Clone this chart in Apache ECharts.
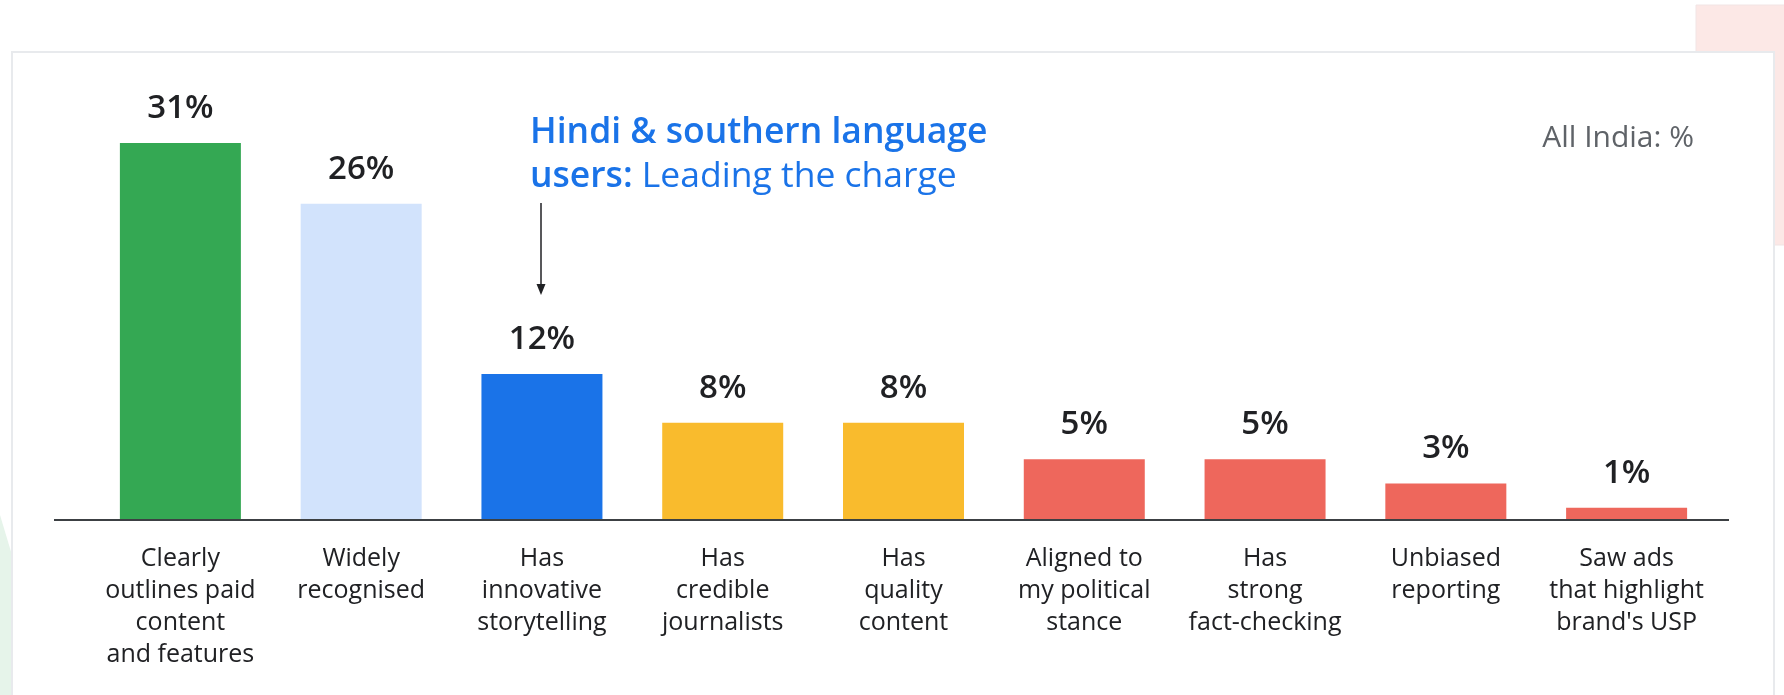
<!DOCTYPE html>
<html>
<head>
<meta charset="utf-8">
<script src="https://cdn.jsdelivr.net/npm/echarts@6/dist/echarts.min.js"></script>
<style>
  html, body { margin: 0; padding: 0; background: #ffffff; }
  #chart { width: 1784px; height: 695px; }
</style>
</head>
<body>
<div id="chart"></div>
<script>
const categories = [
  'Clearly\noutlines paid\ncontent\nand features',
  'Widely\nrecognised',
  'Has\ninnovative\nstorytelling',
  'Has\ncredible\njournalists',
  'Has\nquality\ncontent',
  'Aligned to\nmy political\nstance',
  'Has\nstrong\nfact-checking',
  'Unbiased\nreporting',
  "Saw ads\nthat highlight\nbrand's USP"
];
const values = [31, 26, 12, 8, 8, 5, 5, 3, 1];
const barColors = ['#34a853', '#d2e3fc', '#1a73e8', '#f9bb2d', '#f9bb2d', '#ee675c', '#ee675c', '#ee675c', '#ee675c'];
const annotationLine1 = 'Hindi & southern language';
const annotationLine2Bold = 'users:';
const annotationLine2Rest = 'Leading the charge';
const scopeNote = 'All India: %';

const FONT = '"Open Sans", Roboto, sans-serif';
const chart = echarts.init(document.getElementById('chart'), null, { renderer: 'canvas' });

chart.setOption({
  backgroundColor: '#ffffff',
  animation: false,
  grid: { left: 90, right: 67, top: 33.5, bottom: 175, containLabel: false },
  xAxis: {
    type: 'category',
    data: categories,
    axisLine: { show: false },
    axisTick: { show: false },
    axisLabel: {
      interval: 0,
      margin: 23,
      color: '#202124',
      fontFamily: FONT,
      fontSize: 25,
      lineHeight: 32,
      align: 'center'
    }
  },
  yAxis: {
    type: 'value',
    min: 0,
    max: 40,
    show: false,
    splitLine: { show: false }
  },
  series: [{
    type: 'bar',
    data: values.map((v, i) => ({ value: v, itemStyle: { color: barColors[i] } })),
    barWidth: 121,
    label: {
      show: true,
      position: 'top',
      distance: 18,
      formatter: p => p.value + '%',
      color: '#202124',
      fontFamily: FONT,
      fontSize: 33,
      fontWeight: 600
    },
    z: 3
  }],
  graphic: [
    { type: 'rect', z: -20, silent: true,
      shape: { x: 1696, y: 5, width: 120, height: 240 },
      style: { fill: '#fce8e6', stroke: '#f1e4e4', lineWidth: 1 } },
    { type: 'polygon', z: -20, silent: true,
      shape: { points: [[0, 515], [12, 555], [12, 700], [0, 700]] },
      style: { fill: '#e6f4ea' } },
    { type: 'rect', z: -10, silent: true,
      shape: { x: 12, y: 52, width: 1762, height: 700 },
      style: { fill: '#ffffff', stroke: '#e8eaed', lineWidth: 2 } },
    { type: 'line', z: 5, silent: true,
      shape: { x1: 54, y1: 520, x2: 1729, y2: 520 },
      style: { stroke: '#3c4043', lineWidth: 2 } },
    { type: 'text', z: 5, silent: true, x: 530, y: 132.5,
      style: { text: annotationLine1, fill: '#1a73e8', font: '600 35.5px ' + FONT, verticalAlign: 'middle', align: 'left' } },
    { type: 'text', z: 5, silent: true, x: 530, y: 177,
      style: {
        text: '{b|' + annotationLine2Bold + '} {r|' + annotationLine2Rest + '}',
        verticalAlign: 'middle', align: 'left',
        rich: {
          b: { fill: '#1a73e8', fontFamily: FONT, fontWeight: 600, fontSize: 35.5 },
          r: { fill: '#1a73e8', fontFamily: FONT, fontWeight: 400, fontSize: 35.5 }
        },
        fontFamily: FONT, fontSize: 35.5
      } },
    { type: 'line', z: 5, silent: true,
      shape: { x1: 541, y1: 203, x2: 541, y2: 290 },
      style: { stroke: '#202124', lineWidth: 1.5 } },
    { type: 'polygon', z: 5, silent: true,
      shape: { points: [[536.5, 284], [545.5, 284], [541, 295]] },
      style: { fill: '#202124' } },
    { type: 'text', z: 5, silent: true, x: 1694, y: 138.5,
      style: { text: scopeNote, fill: '#5f6368', font: '400 30px ' + FONT, verticalAlign: 'middle', align: 'right' } }
  ]
});
</script>
</body>
</html>
